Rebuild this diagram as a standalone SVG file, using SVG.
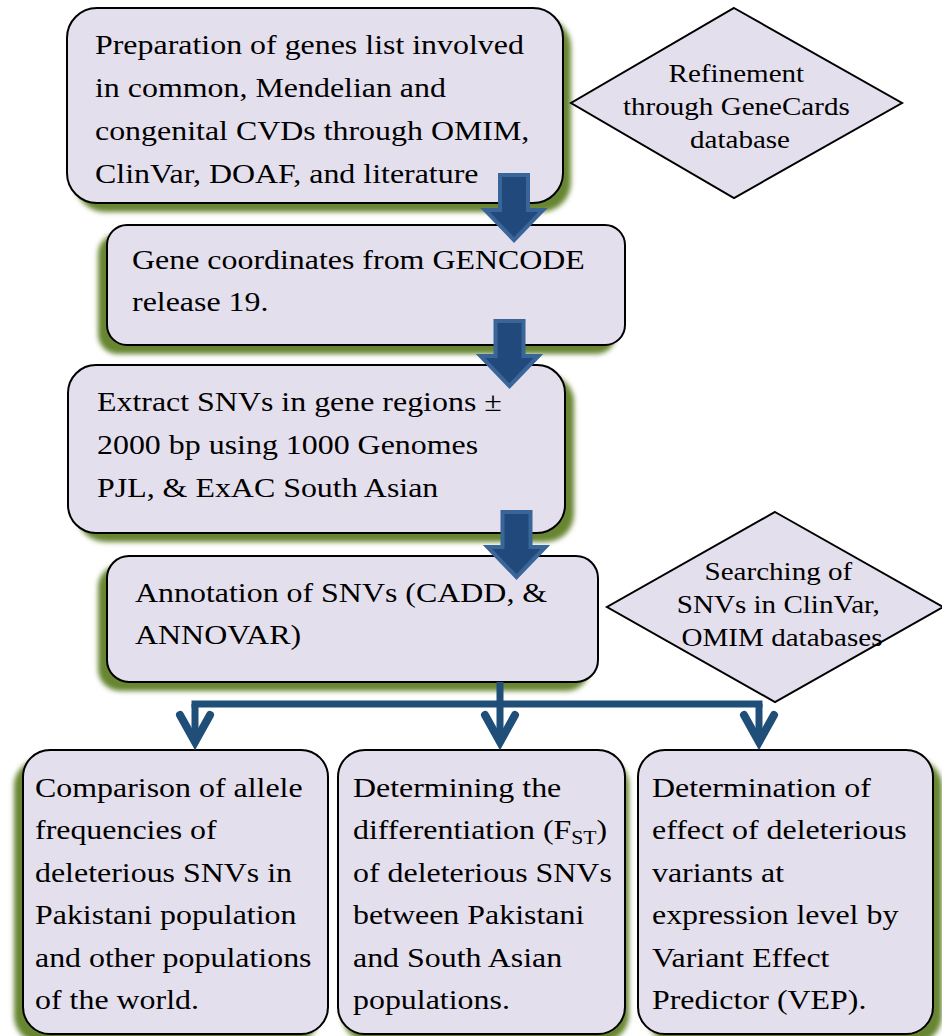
<svg xmlns="http://www.w3.org/2000/svg" xmlns:xlink="http://www.w3.org/1999/xlink" width="942" height="1036" viewBox="0 0 942 1036">
  <style>
    .box { fill: #E4DFEC; stroke: #000; stroke-width: 2; }
    .shadow { fill: #678530; filter: url(#blur); }
    .t { font-family: "Liberation Serif", "Times New Roman", serif; font-size: 28px; fill: #000; }
    .d { font-family: "Liberation Serif", "Times New Roman", serif; font-size: 25.5px; fill: #000; text-anchor: middle; }
    .blk { fill: #21497C; stroke: #3A6598; stroke-width: 4; stroke-linejoin: miter; }
    .fork { fill: none; stroke: #1F4E79; stroke-width: 7; }
  </style>
  <defs>
    <filter id="blur" x="-10%" y="-10%" width="120%" height="130%">
      <feGaussianBlur stdDeviation="2.5"/>
    </filter>
    <path id="blockArrow" d="M-14,0 H14 V35 H29 L0,65 L-29,35 H-14 Z"/>
    <marker id="chev" markerUnits="userSpaceOnUse" viewBox="-40 -25 50 50" markerWidth="50" markerHeight="50" refX="0" refY="0" orient="auto">
      <path d="M-27,-15 L0,0 L-27,15" fill="none" stroke="#1F4E79" stroke-width="8" stroke-linecap="round" stroke-linejoin="miter"/>
    </marker>
  </defs>
  <rect width="942" height="1036" fill="#FFFFFF"/>

  <g id="node-genes-list">
    <rect class="shadow" x="75" y="17" width="496" height="195" rx="30"/>
    <rect class="box" x="67" y="8" width="496" height="195" rx="30"/>
    <text class="t" transform="translate(95,54) scale(1.14,1)">
      <tspan x="0" y="0">Preparation of genes list involved</tspan>
      <tspan x="0" y="43">in common, Mendelian and</tspan>
      <tspan x="0" y="86">congenital CVDs through OMIM,</tspan>
      <tspan x="0" y="129">ClinVar, DOAF, and literature</tspan>
    </text>
  </g>

  <g id="node-genecards">
    <polygon class="box" points="734,8 902,103 734,198 571,103"/>
    <text class="d" transform="translate(740,81.7) scale(1.14,1)">
      <tspan x="0" y="0">Refinement</tspan>
      <tspan x="0" y="33.3">through GeneCards</tspan>
      <tspan x="0" y="66.6">database</tspan>
    </text>
  </g>

  <g id="node-gencode">
    <rect class="shadow" x="98" y="234" width="518" height="120" rx="20"/>
    <rect class="box" x="107" y="225" width="518" height="120" rx="20"/>
    <text class="t" transform="translate(132,269) scale(1.14,1)">
      <tspan x="0" y="0">Gene coordinates from GENCODE</tspan>
      <tspan x="0" y="42">release 19.</tspan>
    </text>
  </g>

  <g id="node-extract">
    <rect class="shadow" x="77" y="374" width="497" height="168" rx="28"/>
    <rect class="box" x="68" y="365" width="497" height="168" rx="28"/>
    <text class="t" transform="translate(97,411) scale(1.14,1)">
      <tspan x="0" y="0">Extract SNVs in gene regions ±</tspan>
      <tspan x="0" y="43">2000 bp using 1000 Genomes</tspan>
      <tspan x="0" y="86">PJL, &amp; ExAC South Asian</tspan>
    </text>
  </g>

  <g id="node-annotation">
    <rect class="shadow" x="98" y="565" width="491" height="126" rx="22"/>
    <rect class="box" x="107" y="556" width="491" height="126" rx="22"/>
    <text class="t" transform="translate(135,602) scale(1.14,1)">
      <tspan x="0" y="0">Annotation of SNVs (CADD, &amp;</tspan>
      <tspan x="0" y="42">ANNOVAR)</tspan>
    </text>
  </g>

  <g id="node-clinvar-search">
    <polygon class="box" points="775,512 943,607 775,702 607,607"/>
    <text class="d" transform="translate(782,580) scale(1.14,1)">
      <tspan x="0" y="0">Searching of</tspan>
      <tspan x="0" y="33">SNVs in ClinVar,</tspan>
      <tspan x="0" y="66">OMIM databases</tspan>
    </text>
  </g>

  <g id="node-allele-freq">
    <rect class="shadow" x="14" y="759" width="305" height="284" rx="27"/>
    <rect class="box" x="23" y="750" width="305" height="284" rx="27"/>
    <text class="t" transform="translate(35,797) scale(1.14,1)">
      <tspan x="0" y="0">Comparison of allele</tspan>
      <tspan x="0" y="42.5">frequencies of</tspan>
      <tspan x="0" y="85">deleterious SNVs in</tspan>
      <tspan x="0" y="127.5">Pakistani population</tspan>
      <tspan x="0" y="170">and other populations</tspan>
      <tspan x="0" y="212.5">of the world.</tspan>
    </text>
  </g>

  <g id="node-fst">
    <rect class="shadow" x="342" y="758" width="287" height="284" rx="27"/>
    <rect class="box" x="338" y="750" width="287" height="284" rx="27"/>
    <text class="t" transform="translate(353,797) scale(1.14,1)">
      <tspan x="0" y="0">Determining the</tspan>
      <tspan x="0" y="42.5">differentiation (F<tspan font-size="19" dy="5">ST</tspan><tspan dy="-5">)</tspan></tspan>
      <tspan x="0" y="85">of deleterious SNVs</tspan>
      <tspan x="0" y="127.5">between Pakistani</tspan>
      <tspan x="0" y="170">and South Asian</tspan>
      <tspan x="0" y="212.5">populations.</tspan>
    </text>
  </g>

  <g id="node-vep">
    <rect class="shadow" x="647" y="759" width="295" height="284" rx="27"/>
    <rect class="box" x="638" y="750" width="295" height="284" rx="27"/>
    <text class="t" transform="translate(652,797) scale(1.14,1)">
      <tspan x="0" y="0">Determination of</tspan>
      <tspan x="0" y="42.5">effect of deleterious</tspan>
      <tspan x="0" y="85">variants at</tspan>
      <tspan x="0" y="127.5">expression level by</tspan>
      <tspan x="0" y="170">Variant Effect</tspan>
      <tspan x="0" y="212.5">Predictor (VEP).</tspan>
    </text>
  </g>

  <g id="connectors">
    <use xlink:href="#blockArrow" class="blk" transform="translate(514,175)"/>
    <use xlink:href="#blockArrow" class="blk" transform="translate(509.5,321)"/>
    <use xlink:href="#blockArrow" class="blk" transform="translate(516.5,512)"/>
    <path class="fork" d="M191.5,704 H762.5"/>
    <path class="fork" d="M500,682 V742" marker-end="url(#chev)"/>
    <path class="fork" d="M195,704 V742" marker-end="url(#chev)"/>
    <path class="fork" d="M759,704 V742" marker-end="url(#chev)"/>
  </g>
</svg>
